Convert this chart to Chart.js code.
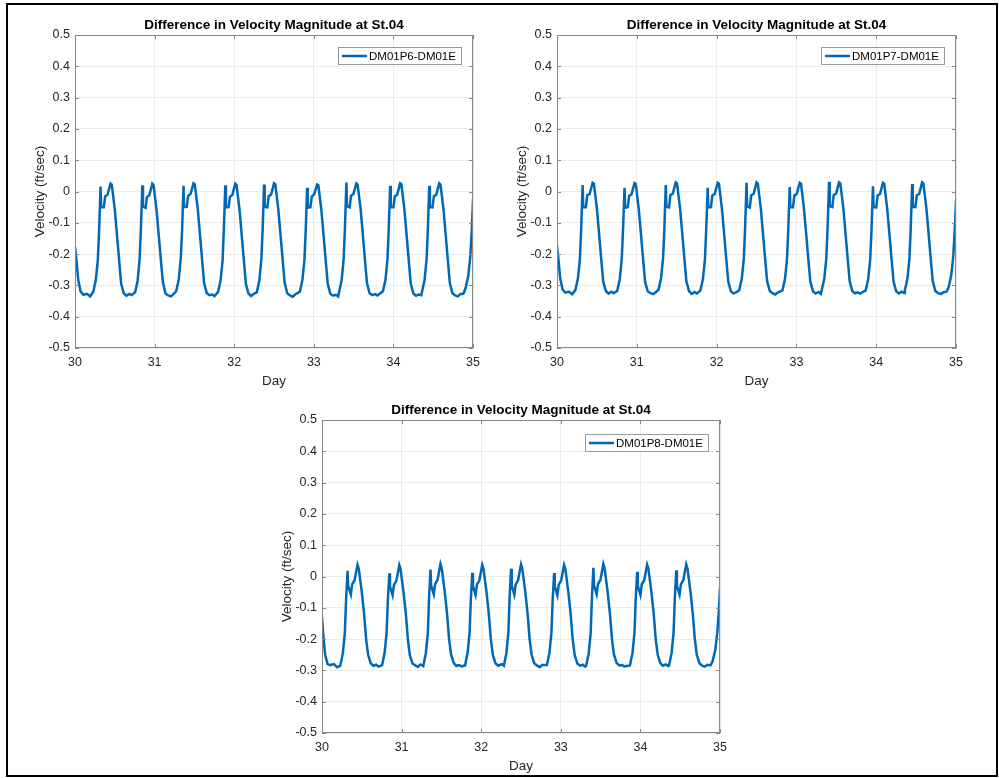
<!DOCTYPE html>
<html>
<head>
<meta charset="utf-8">
<script src="https://cdn.jsdelivr.net/npm/chart.js@4.4.1/dist/chart.umd.min.js"></script>
<style>
body { margin: 0; background: #fff; overflow: hidden; }
#frame { position: absolute; left: 6px; top: 3px; width: 992px; height: 774px; border: 2px solid #000; box-sizing: border-box; }
canvas { position: absolute; }
</style>
</head>
<body>
<div id="frame"></div>
<canvas id="c1" width="477" height="384" style="left:10px;top:8px"></canvas>
<canvas id="c2" width="478" height="384" style="left:492px;top:8px"></canvas>
<canvas id="c3" width="477" height="384" style="left:257px;top:393px"></canvas>
<script>
// sample times (day), shared by the three runs
var days = [
  30.000, 30.020, 30.040, 30.070, 30.105, 30.150, 30.190,
  30.230, 30.262, 30.287, 30.303, 30.321, 30.329, 30.362, 30.379, 30.409, 30.446, 30.462, 30.500, 30.529, 30.554, 30.579, 30.612, 30.646, 30.681, 30.711,
  30.755, 30.787, 30.812, 30.828, 30.846, 30.854, 30.887, 30.904, 30.934, 30.971, 30.987, 31.025, 31.054, 31.079, 31.104, 31.137, 31.171, 31.206, 31.236,
  31.272, 31.304, 31.329, 31.345, 31.363, 31.371, 31.404, 31.421, 31.451, 31.488, 31.504, 31.542, 31.571, 31.596, 31.621, 31.654, 31.688, 31.723, 31.753,
  31.797, 31.829, 31.854, 31.870, 31.888, 31.896, 31.929, 31.946, 31.976, 32.013, 32.029, 32.067, 32.096, 32.121, 32.146, 32.179, 32.213, 32.240, 32.260,
  32.284, 32.316, 32.341, 32.357, 32.375, 32.383, 32.416, 32.433, 32.463, 32.500, 32.516, 32.554, 32.583, 32.608, 32.633, 32.666, 32.700, 32.735, 32.765,
  32.825, 32.857, 32.882, 32.898, 32.916, 32.924, 32.957, 32.974, 33.004, 33.041, 33.057, 33.095, 33.124, 33.149, 33.174, 33.207, 33.241, 33.276, 33.306,
  33.318, 33.350, 33.375, 33.391, 33.409, 33.417, 33.450, 33.467, 33.497, 33.534, 33.550, 33.588, 33.617, 33.642, 33.667, 33.700, 33.734, 33.769, 33.799,
  33.868, 33.900, 33.925, 33.941, 33.959, 33.967, 34.000, 34.017, 34.047, 34.084, 34.100, 34.138, 34.167, 34.192, 34.217, 34.250, 34.284, 34.319, 34.349,
  34.359, 34.391, 34.416, 34.432, 34.450, 34.458, 34.491, 34.508, 34.538, 34.575, 34.591, 34.629, 34.658, 34.683, 34.708, 34.741, 34.775, 34.810, 34.840,
  34.880, 34.905, 34.940, 34.965, 34.985, 35.000
];

var velP6 = [
  -0.176, -0.224, -0.282, -0.319, -0.330, -0.327, -0.335,
  -0.320, -0.282, -0.218, -0.122, 0.016, -0.050, -0.050, -0.016, -0.010, 0.025, 0.022, -0.058, -0.144, -0.218, -0.293, -0.325, -0.333, -0.327, -0.331,
  -0.322, -0.285, -0.215, -0.118, 0.020, -0.048, -0.052, -0.018, -0.012, 0.025, 0.020, -0.060, -0.146, -0.220, -0.290, -0.326, -0.332, -0.335, -0.328,
  -0.318, -0.280, -0.212, -0.125, 0.018, -0.050, -0.049, -0.014, -0.008, 0.026, 0.023, -0.055, -0.142, -0.216, -0.292, -0.324, -0.331, -0.329, -0.334,
  -0.321, -0.284, -0.220, -0.120, 0.020, -0.051, -0.050, -0.017, -0.011, 0.025, 0.021, -0.059, -0.145, -0.219, -0.294, -0.326, -0.334, -0.328, -0.325,
  -0.322, -0.283, -0.216, -0.121, 0.022, -0.049, -0.051, -0.015, -0.010, 0.026, 0.023, -0.057, -0.143, -0.217, -0.291, -0.325, -0.332, -0.336, -0.329,
  -0.320, -0.281, -0.219, -0.124, 0.012, -0.052, -0.050, -0.016, -0.009, 0.022, 0.020, -0.060, -0.146, -0.220, -0.293, -0.327, -0.333, -0.330, -0.335,
  -0.321, -0.283, -0.214, -0.115, 0.029, -0.047, -0.051, -0.014, -0.008, 0.026, 0.022, -0.056, -0.142, -0.218, -0.292, -0.325, -0.331, -0.328, -0.332,
  -0.319, -0.282, -0.217, -0.120, 0.018, -0.050, -0.050, -0.016, -0.010, 0.026, 0.023, -0.058, -0.144, -0.219, -0.293, -0.326, -0.333, -0.329, -0.331,
  -0.320, -0.283, -0.218, -0.122, 0.018, -0.050, -0.051, -0.015, -0.010, 0.026, 0.022, -0.057, -0.143, -0.218, -0.292, -0.325, -0.332, -0.335, -0.328,
  -0.326, -0.310, -0.270, -0.210, -0.120, -0.024
];

var velP7 = [
  -0.174, -0.222, -0.278, -0.313, -0.323, -0.320, -0.328,
  -0.315, -0.278, -0.215, -0.120, 0.021, -0.050, -0.050, -0.012, -0.008, 0.028, 0.025, -0.055, -0.140, -0.215, -0.288, -0.318, -0.326, -0.320, -0.325,
  -0.317, -0.280, -0.212, -0.118, 0.012, -0.052, -0.050, -0.014, -0.009, 0.027, 0.024, -0.057, -0.142, -0.217, -0.289, -0.319, -0.325, -0.328, -0.322,
  -0.314, -0.277, -0.213, -0.121, 0.021, -0.049, -0.051, -0.011, -0.007, 0.029, 0.026, -0.054, -0.139, -0.214, -0.287, -0.318, -0.327, -0.321, -0.326,
  -0.316, -0.279, -0.216, -0.119, 0.012, -0.051, -0.050, -0.013, -0.008, 0.028, 0.025, -0.056, -0.141, -0.216, -0.288, -0.319, -0.326, -0.322, -0.320,
  -0.315, -0.278, -0.214, -0.115, 0.028, -0.048, -0.051, -0.012, -0.008, 0.029, 0.025, -0.055, -0.140, -0.215, -0.287, -0.318, -0.325, -0.329, -0.323,
  -0.316, -0.279, -0.215, -0.120, 0.014, -0.050, -0.050, -0.013, -0.008, 0.028, 0.025, -0.056, -0.141, -0.216, -0.288, -0.319, -0.326, -0.321, -0.327,
  -0.314, -0.277, -0.212, -0.113, 0.031, -0.047, -0.050, -0.011, -0.007, 0.029, 0.026, -0.054, -0.139, -0.214, -0.287, -0.318, -0.325, -0.322, -0.326,
  -0.316, -0.279, -0.215, -0.120, 0.017, -0.050, -0.051, -0.013, -0.008, 0.028, 0.025, -0.056, -0.141, -0.216, -0.288, -0.319, -0.326, -0.320, -0.324,
  -0.315, -0.278, -0.214, -0.118, 0.024, -0.049, -0.050, -0.012, -0.008, 0.029, 0.025, -0.055, -0.140, -0.215, -0.287, -0.318, -0.325, -0.328, -0.322,
  -0.320, -0.308, -0.268, -0.208, -0.118, -0.027
];

var velP8 = [
  -0.130, -0.200, -0.250, -0.280, -0.283, -0.280, -0.290,
  -0.285, -0.245, -0.180, -0.070, 0.018, -0.030, -0.058, -0.025, -0.012, 0.038, 0.025, -0.050, -0.120, -0.200, -0.250, -0.277, -0.285, -0.282, -0.288,
  -0.283, -0.243, -0.178, -0.072, 0.010, -0.032, -0.060, -0.027, -0.014, 0.036, 0.023, -0.052, -0.122, -0.202, -0.252, -0.278, -0.284, -0.289, -0.281,
  -0.286, -0.246, -0.182, -0.068, 0.022, -0.028, -0.057, -0.024, -0.011, 0.040, 0.026, -0.049, -0.119, -0.199, -0.249, -0.276, -0.286, -0.283, -0.287,
  -0.284, -0.244, -0.179, -0.071, 0.012, -0.031, -0.059, -0.026, -0.013, 0.037, 0.024, -0.051, -0.121, -0.201, -0.251, -0.277, -0.285, -0.282, -0.280,
  -0.285, -0.245, -0.180, -0.066, 0.025, -0.029, -0.058, -0.025, -0.012, 0.039, 0.025, -0.050, -0.120, -0.200, -0.250, -0.277, -0.284, -0.290, -0.283,
  -0.283, -0.244, -0.179, -0.072, 0.011, -0.031, -0.060, -0.026, -0.013, 0.037, 0.024, -0.051, -0.121, -0.201, -0.251, -0.278, -0.285, -0.282, -0.288,
  -0.285, -0.246, -0.181, -0.065, 0.028, -0.028, -0.057, -0.024, -0.011, 0.040, 0.026, -0.049, -0.119, -0.199, -0.249, -0.276, -0.284, -0.283, -0.287,
  -0.284, -0.245, -0.180, -0.070, 0.015, -0.030, -0.059, -0.025, -0.012, 0.038, 0.025, -0.050, -0.120, -0.200, -0.250, -0.277, -0.285, -0.281, -0.286,
  -0.285, -0.245, -0.180, -0.069, 0.020, -0.030, -0.058, -0.025, -0.012, 0.039, 0.025, -0.050, -0.120, -0.200, -0.250, -0.277, -0.285, -0.288, -0.282,
  -0.284, -0.272, -0.235, -0.180, -0.110, -0.035
];

var titleText = 'Difference in Velocity Magnitude at St.04';
var xLabel = 'Day';
var yLabel = 'Velocity (ft/sec)';
var lineColor = '#0068b5';
var axisColor = '#868686';

Chart.defaults.font.family = '"Liberation Sans", Arial, Helvetica, sans-serif';

// MATLAB-like box, inward ticks and in-axes legend
var matlabBox = {
  id: 'matlabBox',
  afterDraw: function (chart, args, opts) {
    var ctx = chart.ctx, a = chart.chartArea;
    var xs = chart.scales.x, ys = chart.scales.y;
    ctx.save();
    ctx.strokeStyle = axisColor;
    ctx.lineWidth = 1;
    ctx.strokeRect(a.left + 0.5, a.top + 0.5, a.right - a.left - 1, a.bottom - a.top - 1);
    ctx.beginPath();
    xs.ticks.forEach(function (t) {
      var px = Math.round(xs.getPixelForValue(t.value)) + 0.5;
      ctx.moveTo(px, a.bottom); ctx.lineTo(px, a.bottom - 4);
      ctx.moveTo(px, a.top); ctx.lineTo(px, a.top + 4);
    });
    ys.ticks.forEach(function (t) {
      var py = Math.round(ys.getPixelForValue(t.value)) + 0.5;
      ctx.moveTo(a.left, py); ctx.lineTo(a.left + 4, py);
      ctx.moveTo(a.right, py); ctx.lineTo(a.right - 4, py);
    });
    ctx.stroke();

    var label = chart.data.datasets[0].label;
    ctx.font = '11.5px "Liberation Sans", Arial, sans-serif';
    var tw = ctx.measureText(label).width;
    var w = Math.round(31 + tw + 5), h = 17;
    var x = Math.round(a.right - opts.right - w), y = Math.round(a.top + opts.top);
    ctx.fillStyle = '#fff';
    ctx.fillRect(x, y, w, h);
    ctx.strokeStyle = '#9a9a9a';
    ctx.strokeRect(x + 0.5, y + 0.5, w, h);
    ctx.strokeStyle = lineColor;
    ctx.lineWidth = 2.5;
    ctx.beginPath();
    ctx.moveTo(x + 4, y + h / 2 + 0.5);
    ctx.lineTo(x + 29, y + h / 2 + 0.5);
    ctx.stroke();
    ctx.fillStyle = '#000';
    ctx.textBaseline = 'middle';
    ctx.fillText(label, x + 31, y + h / 2 + 1);
    ctx.restore();
  }
};

function makeChart(id, values, name, legTop) {
  var pts = days.map(function (d, i) { return {x: d, y: values[i]}; });
  return new Chart(document.getElementById(id), {
    type: 'line',
    data: {
      datasets: [{
        label: name,
        data: pts,
        borderColor: lineColor,
        borderWidth: 2.5,
        pointRadius: 0,
        tension: 0,
        fill: false
      }]
    },
    plugins: [matlabBox],
    options: {
      responsive: false,
      animation: false,
      devicePixelRatio: 1,
      layout: {padding: {right: 12}},
      plugins: {
        legend: {display: false},
        tooltip: {enabled: false},
        matlabBox: {top: legTop, right: 12},
        title: {
          display: true,
          text: titleText,
          fullSize: false,
          color: '#000',
          font: {size: 13.5, weight: 'bold'},
          padding: {top: 8.8, bottom: 2}
        }
      },
      scales: {
        x: {
          type: 'linear',
          min: 30,
          max: 35,
          ticks: {stepSize: 1, color: '#262626', font: {size: 12.5}, padding: 7, maxRotation: 0},
          grid: {color: '#ececec', drawTicks: false},
          border: {display: false},
          title: {display: true, text: xLabel, color: '#262626', font: {size: 13.5}, padding: {top: 0, bottom: 3}},
          afterFit: function (s) { s.height = 44; }
        },
        y: {
          type: 'linear',
          min: -0.5,
          max: 0.5,
          ticks: {
            stepSize: 0.1,
            color: '#262626',
            font: {size: 12.5},
            padding: 5,
            callback: function (v) { return String(Math.round(v * 10) / 10); }
          },
          grid: {color: '#ececec', drawTicks: false},
          border: {display: false},
          title: {display: true, text: yLabel, color: '#262626', font: {size: 13.5}, padding: {top: 22, bottom: 0}},
          afterFit: function (s) { s.width = 65; }
        }
      }
    }
  });
}

makeChart('c1', velP6, 'DM01P6-DM01E', 12);
makeChart('c2', velP7, 'DM01P7-DM01E', 12);
makeChart('c3', velP8, 'DM01P8-DM01E', 14);
</script>
</body>
</html>
